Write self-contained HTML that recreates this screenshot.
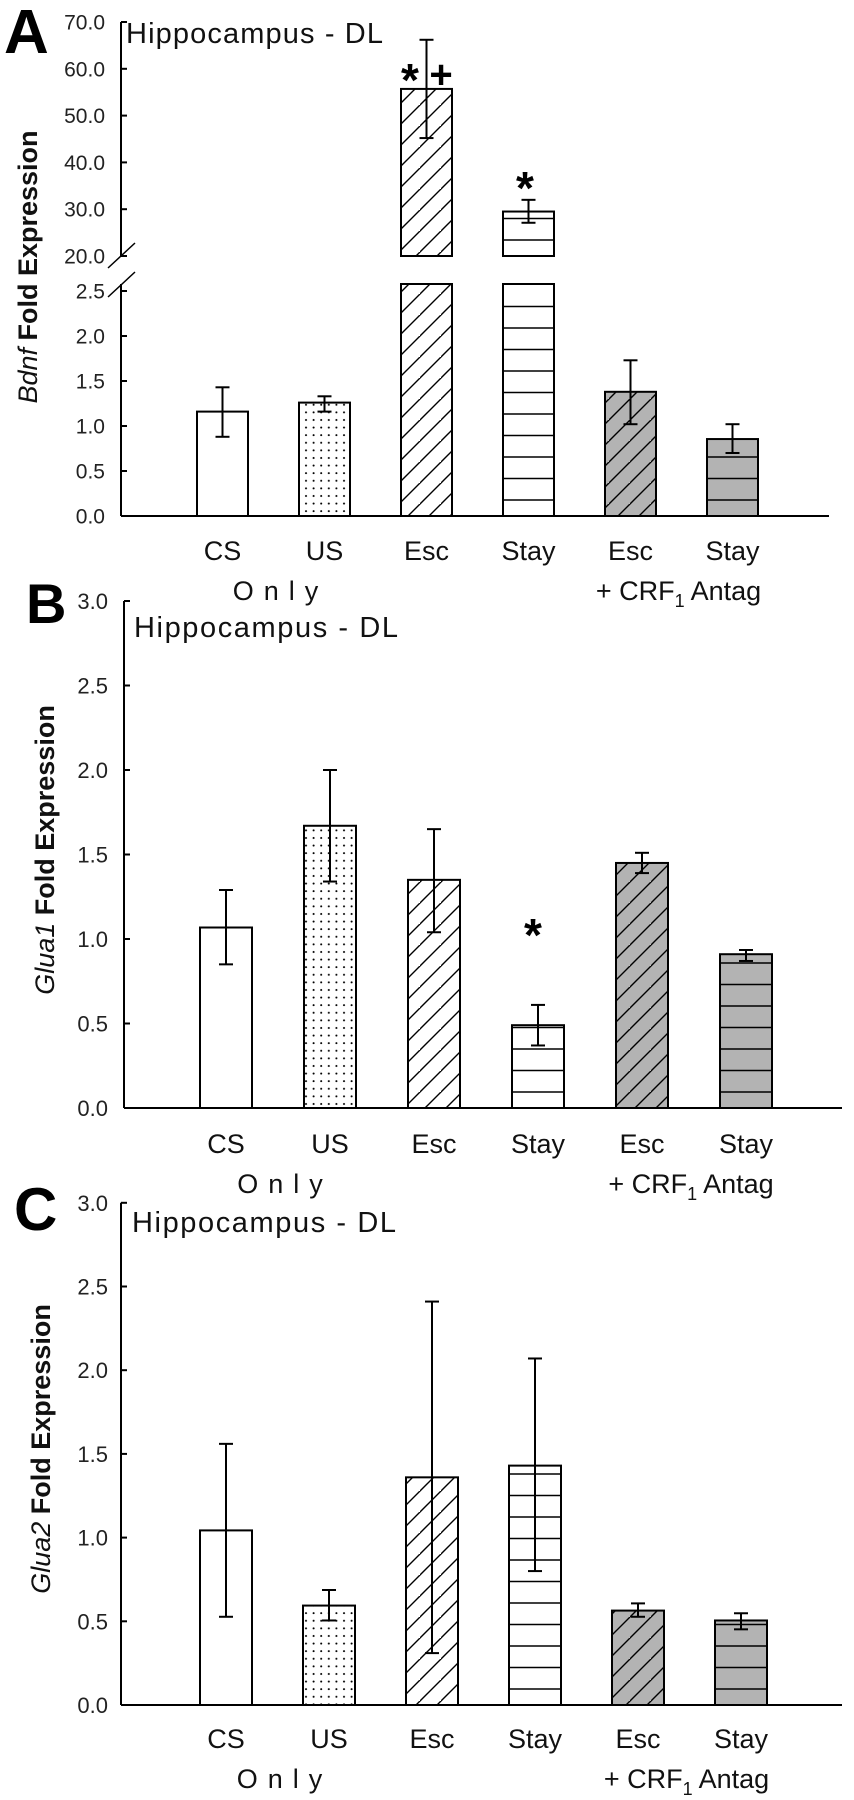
<!DOCTYPE html>
<html><head><meta charset="utf-8"><style>
html,body{margin:0;padding:0;background:#fff;}
svg{display:block;font-family:"Liberation Sans",Arial,sans-serif;}
</style></head><body>
<svg id="fig" width="854" height="1800" viewBox="0 0 854 1800" xmlns="http://www.w3.org/2000/svg">
<defs>
<pattern id="dots" patternUnits="userSpaceOnUse" width="7.6" height="7.6"><circle cx="2" cy="2" r="1" fill="#000"/></pattern>
<pattern id="diag" patternUnits="userSpaceOnUse" width="21" height="21"><rect width="21" height="21" fill="#fff"/><path d="M-2,23 L23,-2 M-23,23 L2,-2 M19,44 L44,19" stroke="#000" stroke-width="1.4"/></pattern>
<pattern id="diagg" patternUnits="userSpaceOnUse" width="21" height="21"><rect width="21" height="21" fill="#b3b3b3"/><path d="M-2,23 L23,-2 M-23,23 L2,-2 M19,44 L44,19" stroke="#000" stroke-width="1.4"/></pattern>
</defs>
<g id="root"></g>
</svg>
<script>
const categories = ["CS","US","Esc","Stay","Esc","Stay"];
const fills = ["white","dots","diag","horiz","diagg","horizg"];
const bdnfMeans = [1.16,1.26,55.7,29.5,1.38,0.855];
const bdnfErrUp = [1.43,1.33,66.2,32.0,1.73,1.02];
const bdnfErrLow = [0.88,1.16,45.2,27.1,1.02,0.70];
const glua1Means = [1.068,1.67,1.35,0.49,1.45,0.91];
const glua1ErrUp = [1.29,2.0,1.65,0.61,1.51,0.935];
const glua1ErrLow = [0.85,1.34,1.04,0.37,1.39,0.87];
const glua2Means = [1.043,0.594,1.36,1.43,0.564,0.505];
const glua2ErrUp = [1.56,0.687,2.41,2.07,0.607,0.548];
const glua2ErrLow = [0.527,0.505,0.31,0.80,0.527,0.452];
const lowTicks = [0,0.5,1.0,1.5,2.0,2.5];
const highTicks = [20,30,40,50,60,70];
const glTicks = [0,0.5,1.0,1.5,2.0,2.5,3.0];

const NS="http://www.w3.org/2000/svg";
const root=document.getElementById('root');
function mk(tag,attrs,parent){const e=document.createElementNS(NS,tag);for(const k in attrs)e.setAttribute(k,attrs[k]);(parent||root).appendChild(e);return e;}
function txt(s,attrs,parent){const e=mk('text',attrs,parent);e.textContent=s;return e;}

const aBase=516, aLowTop=284, aHighBase=256;
function yALow(v){return aBase - v*90;}
function yAHigh(v){return aHighBase - (v-20)*4.68;}
function yA(v){return v>=20? yAHigh(v) : yALow(v);}

function drawPanel(cfg){
  const g=mk('g',{});
  
  
  const ax=mk('g',{},g);
  
  
  if(cfg.broken){
    mk('line',{x1:cfg.ax,y1:cfg.base,x2:cfg.ax,y2:aLowTop,stroke:'#000','stroke-width':2},ax);
    mk('line',{x1:cfg.ax,y1:aHighBase,x2:cfg.ax,y2:yAHigh(70),stroke:'#000','stroke-width':2},ax);
    const br=mk('g',{},ax);
    
    
    mk('line',{x1:108,y1:268,x2:135,y2:243,stroke:'#000','stroke-width':1.5},br);
    mk('line',{x1:108,y1:297,x2:135,y2:272,stroke:'#000','stroke-width':1.5},br);
    lowTicks.forEach(t=>{const y=yALow(t);mk('line',{x1:cfg.ax,y1:y,x2:cfg.ax+6,y2:y,stroke:'#000','stroke-width':2},ax);
      const l=txt(t.toFixed(1),{x:105,y:y+7.5,'font-size':21,'text-anchor':'end',fill:'#222'},ax);
      
      });
    highTicks.forEach(t=>{const y=yAHigh(t);mk('line',{x1:cfg.ax,y1:y,x2:cfg.ax+6,y2:y,stroke:'#000','stroke-width':2},ax);
      const l=txt(t.toFixed(1),{x:105,y:y+7.5,'font-size':21,'text-anchor':'end',fill:'#222'},ax);
      
      });
  } else {
    mk('line',{x1:cfg.ax,y1:cfg.base,x2:cfg.ax,y2:cfg.y(3),stroke:'#000','stroke-width':2},ax);
    glTicks.forEach(t=>{const y=cfg.y(t);mk('line',{x1:cfg.ax,y1:y,x2:cfg.ax+6,y2:y,stroke:'#000','stroke-width':2},ax);
      const l=txt(t.toFixed(1),{x:108,y:y+8,'font-size':22,'text-anchor':'end',fill:'#222'},ax);
      
      });
  }
  const xa=mk('line',{x1:cfg.ax,y1:cfg.base,x2:cfg.axEnd,y2:cfg.base,stroke:'#000','stroke-width':2},g);
  
  

  cfg.means.forEach((m,i)=>{
    const x=cfg.x0+i*cfg.step, w=cfg.w, cx=x+w/2;
    const bg=mk('g',{},g);
    
    
    const f=fills[i];
    const fillVal = f==='white'||f==='horiz'?'#fff':f==='dots'?'url(#dots)':f==='diag'?'url(#diag)':f==='diagg'?'url(#diagg)':'#b3b3b3';
    const segs=[];
    if(cfg.broken && m>=20){segs.push([aLowTop,cfg.base]);segs.push([yAHigh(m),aHighBase]);}
    else segs.push([cfg.y(m),cfg.base]);
    segs.forEach(s=>{
      mk('rect',{x:x,y:s[0],width:w,height:s[1]-s[0],fill:fillVal,stroke:'none'},bg);
      if(f==='horiz'||f==='horizg'){
        for(let yy=s[1]-16; yy>s[0]+2; yy-=21.5) mk('line',{x1:x,y1:yy,x2:x+w,y2:yy,stroke:'#000','stroke-width':1.6},bg);
      }
      mk('rect',{x:x,y:s[0],width:w,height:s[1]-s[0],fill:'none',stroke:'#000','stroke-width':2},bg);
    });
    const e=mk('g',{},g);
    
    
    const yu=cfg.y(cfg.up[i]), yl=cfg.y(cfg.low[i]);
    mk('line',{x1:cx,y1:yu,x2:cx,y2:yl,stroke:'#000','stroke-width':2},e);
    mk('line',{x1:cx-7,y1:yu,x2:cx+7,y2:yu,stroke:'#000','stroke-width':2},e);
    mk('line',{x1:cx-7,y1:yl,x2:cx+7,y2:yl,stroke:'#000','stroke-width':2},e);
    const cl=txt(categories[i],{x:cx,y:cfg.labY,'font-size':27,'text-anchor':'middle',fill:'#111'},g);
    
    
  });
  const c0=cfg.x0+cfg.w/2, c1=c0+cfg.step, c4=c0+4*cfg.step, c5=c0+5*cfg.step;
  const o=txt('Only',{x:(c0+c1)/2+7,y:cfg.labY+40,'font-size':27,'text-anchor':'middle','letter-spacing':'10',fill:'#111'},g);
  
  
  const crf=txt('',{x:(c4+c5)/2-3,y:cfg.labY+40,'font-size':27,'text-anchor':'middle',fill:'#111'},g);
  
  
  crf.innerHTML='+ CRF<tspan font-size="18" dy="7">1</tspan><tspan dy="-7"> Antag</tspan>';
  const h=txt('Hippocampus - DL',{x:cfg.hx,y:cfg.hy,'font-size':29,textLength:cfg.hw,fill:'#111'},g);
  
  
  const pl=txt(cfg.letter,{x:cfg.lx,y:cfg.ly,'font-size':cfg.lfs,'font-weight':'bold',fill:'#000'},g);
  
  
  const yt=txt('',{x:0,y:0,'font-size':27,'font-weight':'bold','text-anchor':'middle',fill:'#111',transform:'translate('+cfg.tx+','+cfg.ty+') rotate(-90)'},g);
  
  
  yt.innerHTML='<tspan font-style="italic" font-weight="normal">'+cfg.gene+'</tspan>'+cfg.titleRest;
  return g;
}

drawPanel({name:'panel-a-bdnf',broken:true,y:yA,base:aBase,ax:121,axEnd:829,x0:197,step:102,w:51,
  means:bdnfMeans,up:bdnfErrUp,low:bdnfErrLow,labY:560,hx:126,hy:43,hw:257,letter:'A',lx:4,ly:53,lfs:62,
  tx:37,ty:267,gene:'Bdnf',titleRest:'  Fold Expression'});
drawPanel({name:'panel-b-glua1',broken:false,y:v=>1108-v*169,base:1108,ax:124,axEnd:842,x0:200,step:104,w:52,
  means:glua1Means,up:glua1ErrUp,low:glua1ErrLow,labY:1153,hx:134,hy:637,hw:264,letter:'B',lx:26,ly:623,lfs:56,
  tx:54,ty:850,gene:'Glua1',titleRest:'  Fold Expression'});
drawPanel({name:'panel-c-glua2',broken:false,y:v=>1705-v*167.4,base:1705,ax:121,axEnd:842,x0:200,step:103,w:52,
  means:glua2Means,up:glua2ErrUp,low:glua2ErrLow,labY:1748,hx:132,hy:1232,hw:264,letter:'C',lx:14,ly:1230,lfs:60,
  tx:50,ty:1449,gene:'Glua2',titleRest:' Fold Expression'});

const sig=[["*",410,96,46],["+",441,88,40],["*",525,204,46],["*",533,951,46]];
sig.forEach(s=>{const t=txt(s[0],{x:s[1],y:s[2],'font-size':s[3],'font-weight':'bold','text-anchor':'middle',fill:'#000'});
  
  });
</script>
</body></html>
